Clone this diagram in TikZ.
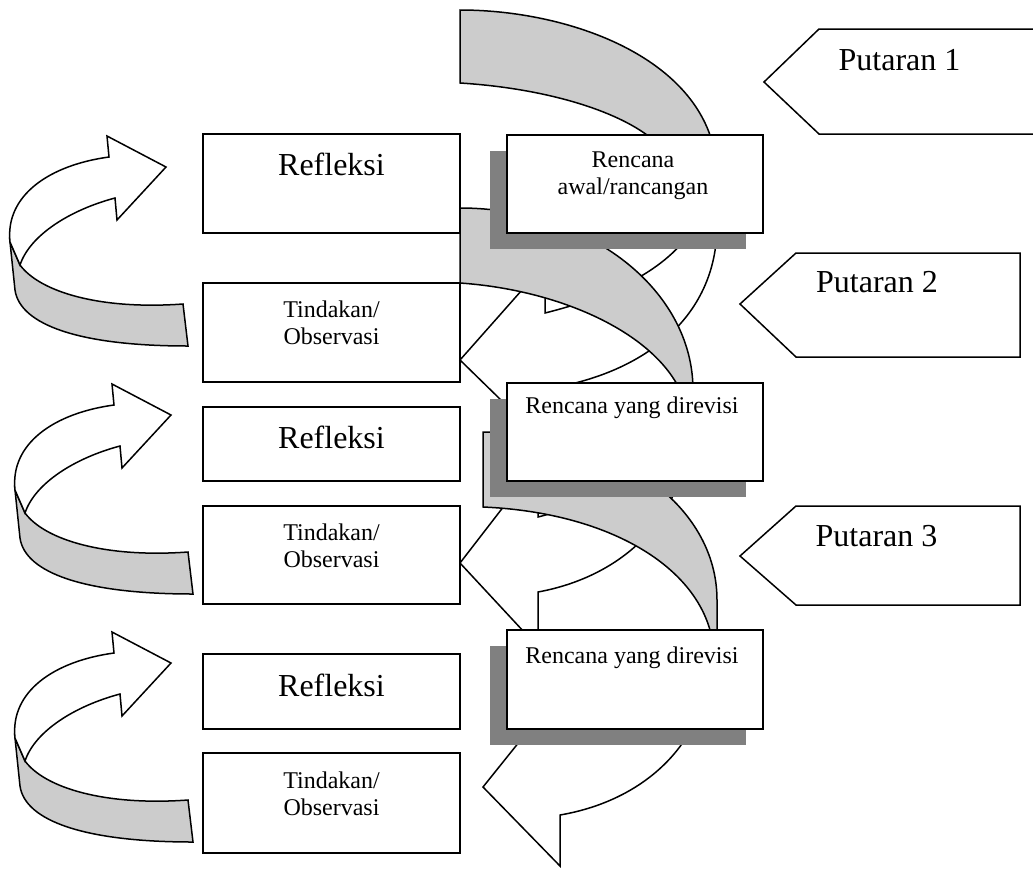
\documentclass[tikz,border=0pt]{standalone}
\usepackage{fontspec}
\setmainfont{Liberation Serif}
\usetikzlibrary{shadows}

\definecolor{bandgray}{HTML}{CCCCCC}
\definecolor{shadowgray}{HTML}{808080}

\begin{document}
\begin{tikzpicture}[x=1pt, y=-1pt, line width=1.5pt]
  \tikzset{box/.style={draw, fill=white, inner sep=0pt, minimum width=257pt}}
  \tikzset{planbox/.style={draw, fill=white, inner sep=0pt, minimum width=256pt, minimum height=98pt,
      drop shadow={shadow xshift=-17pt, shadow yshift=-16pt, fill=shadowgray, opacity=1}}}
  \tikzset{band/.style={draw, fill=bandgray}}
  \tikzset{front/.style={draw, fill=white}}
  \tikzset{bigtext/.style={anchor=base, inner sep=0pt, font=\fontsize{32}{36}\selectfont}}
  \tikzset{smalltext/.style={anchor=base, inner sep=0pt, align=center, font=\fontsize{24}{27}\selectfont}}

  \useasboundingbox (0,0) rectangle (1033,868);

  % curved arrows on the left
  \foreach \dx/\dy in {0/0, 5/248, 5/496} {
    \begin{scope}[shift={(\dx,\dy)}]
      \draw[band] (10,242) -- (15,290) .. controls (20,325) and (80,346) .. (188,346)
        -- (183,304) .. controls (100,310) and (40,292) .. (20,265) -- cycle;
      \draw[front] (10,242) .. controls (5,195) and (50,165) .. (109,157) -- (107,136)
        -- (166,167) -- (117,220) -- (115,198) .. controls (70,210) and (30,235) .. (20,265) -- cycle;
    \end{scope}
  }

  \node[box, minimum height=99pt] (refl1) at (331.5,183.5) {};
  \node[box, minimum height=99pt] (tind1) at (331.5,332.5) {};
  \node[box, minimum height=74pt] (refl2) at (331.5,444) {};
  \node[box, minimum height=98pt] (tind2) at (331.5,555) {};
  \node[box, minimum height=75pt] (refl3) at (331.5,691.5) {};
  \node[box, minimum height=100pt] (tind3) at (331.5,803) {};

  \node[bigtext] (refl1-txt) at (331.5,175) {Refleksi};
  \node[bigtext] (refl2-txt) at (331.5,448) {Refleksi};
  \node[bigtext] (refl3-txt) at (331.5,696) {Refleksi};
  \node[smalltext] (tind1-txt) at (331.5,344) {Tindakan/\\Observasi};
  \node[smalltext] (tind2-txt) at (331.5,567) {Tindakan/\\Observasi};
  \node[smalltext] (tind3-txt) at (331.5,815) {Tindakan/\\Observasi};

  % spiral, round 1
  \draw[band] (460,10) .. controls (560,10) and (680,50) .. (710,135) -- (716,170) -- (660,170)
    -- (647,135) .. controls (610,108) and (540,88) .. (460,83) -- cycle;
  \draw[front] (460,360) -- (545,264) -- (545,313) .. controls (605,298) and (668,272) .. (695,225)
    -- (717,225) .. controls (717,320) and (640,375) .. (545,389) -- (545,443) -- cycle;
  \draw[band] (460,208) .. controls (589,208) and (693,290) .. (693,390) -- (680,390)
    .. controls (652,332) and (560,290) .. (460,283) -- cycle;
  \node[planbox] (plan1) at (635,184) {};

  % spiral, round 2
  \draw[front] (460,563) -- (538,462) -- (538,517) .. controls (593,503) and (655,475) .. (680,440)
    -- (685,440) .. controls (685,510) and (630,575) .. (538,592) -- (538,647) -- cycle;
  \draw[band] (483,432) .. controls (615,432) and (717,505) .. (717,600) -- (717,640) -- (711,640)
    -- (710,630) .. controls (690,560) and (600,512) .. (483,507) -- cycle;
  \node[planbox] (plan2) at (635,432) {};

  % spiral, round 3
  \draw[front] (483,787) -- (560,691) -- (560,740) -- (700,670) -- (708,664)
    .. controls (708,734) and (653,799) .. (560,815) -- (560,866) -- cycle;
  \node[planbox, minimum height=99pt] (plan3) at (635,679.5) {};

  \node[smalltext] (plan1-txt) at (633,194) {Rencana\\awal/rancangan};
  \node[smalltext] (plan2-txt) at (632,413) {Rencana yang direvisi};
  \node[smalltext] (plan3-txt) at (632,663) {Rencana yang direvisi};

  % round labels
  \draw[front] (764,82) -- (819,29) -- (1040,29) -- (1040,134) -- (819,134) -- cycle;
  \draw[front] (740,304) -- (796,253) -- (1020,253) -- (1020,357) -- (796,357) -- cycle;
  \draw[front] (740,556) -- (796,506) -- (1020,506) -- (1020,605) -- (796,605) -- cycle;
  \node[bigtext] (put1) at (899.5,70) {Putaran 1};
  \node[bigtext] (put2) at (877,292) {Putaran 2};
  \node[bigtext] (put3) at (876.5,546) {Putaran 3};
\end{tikzpicture}
\end{document}
